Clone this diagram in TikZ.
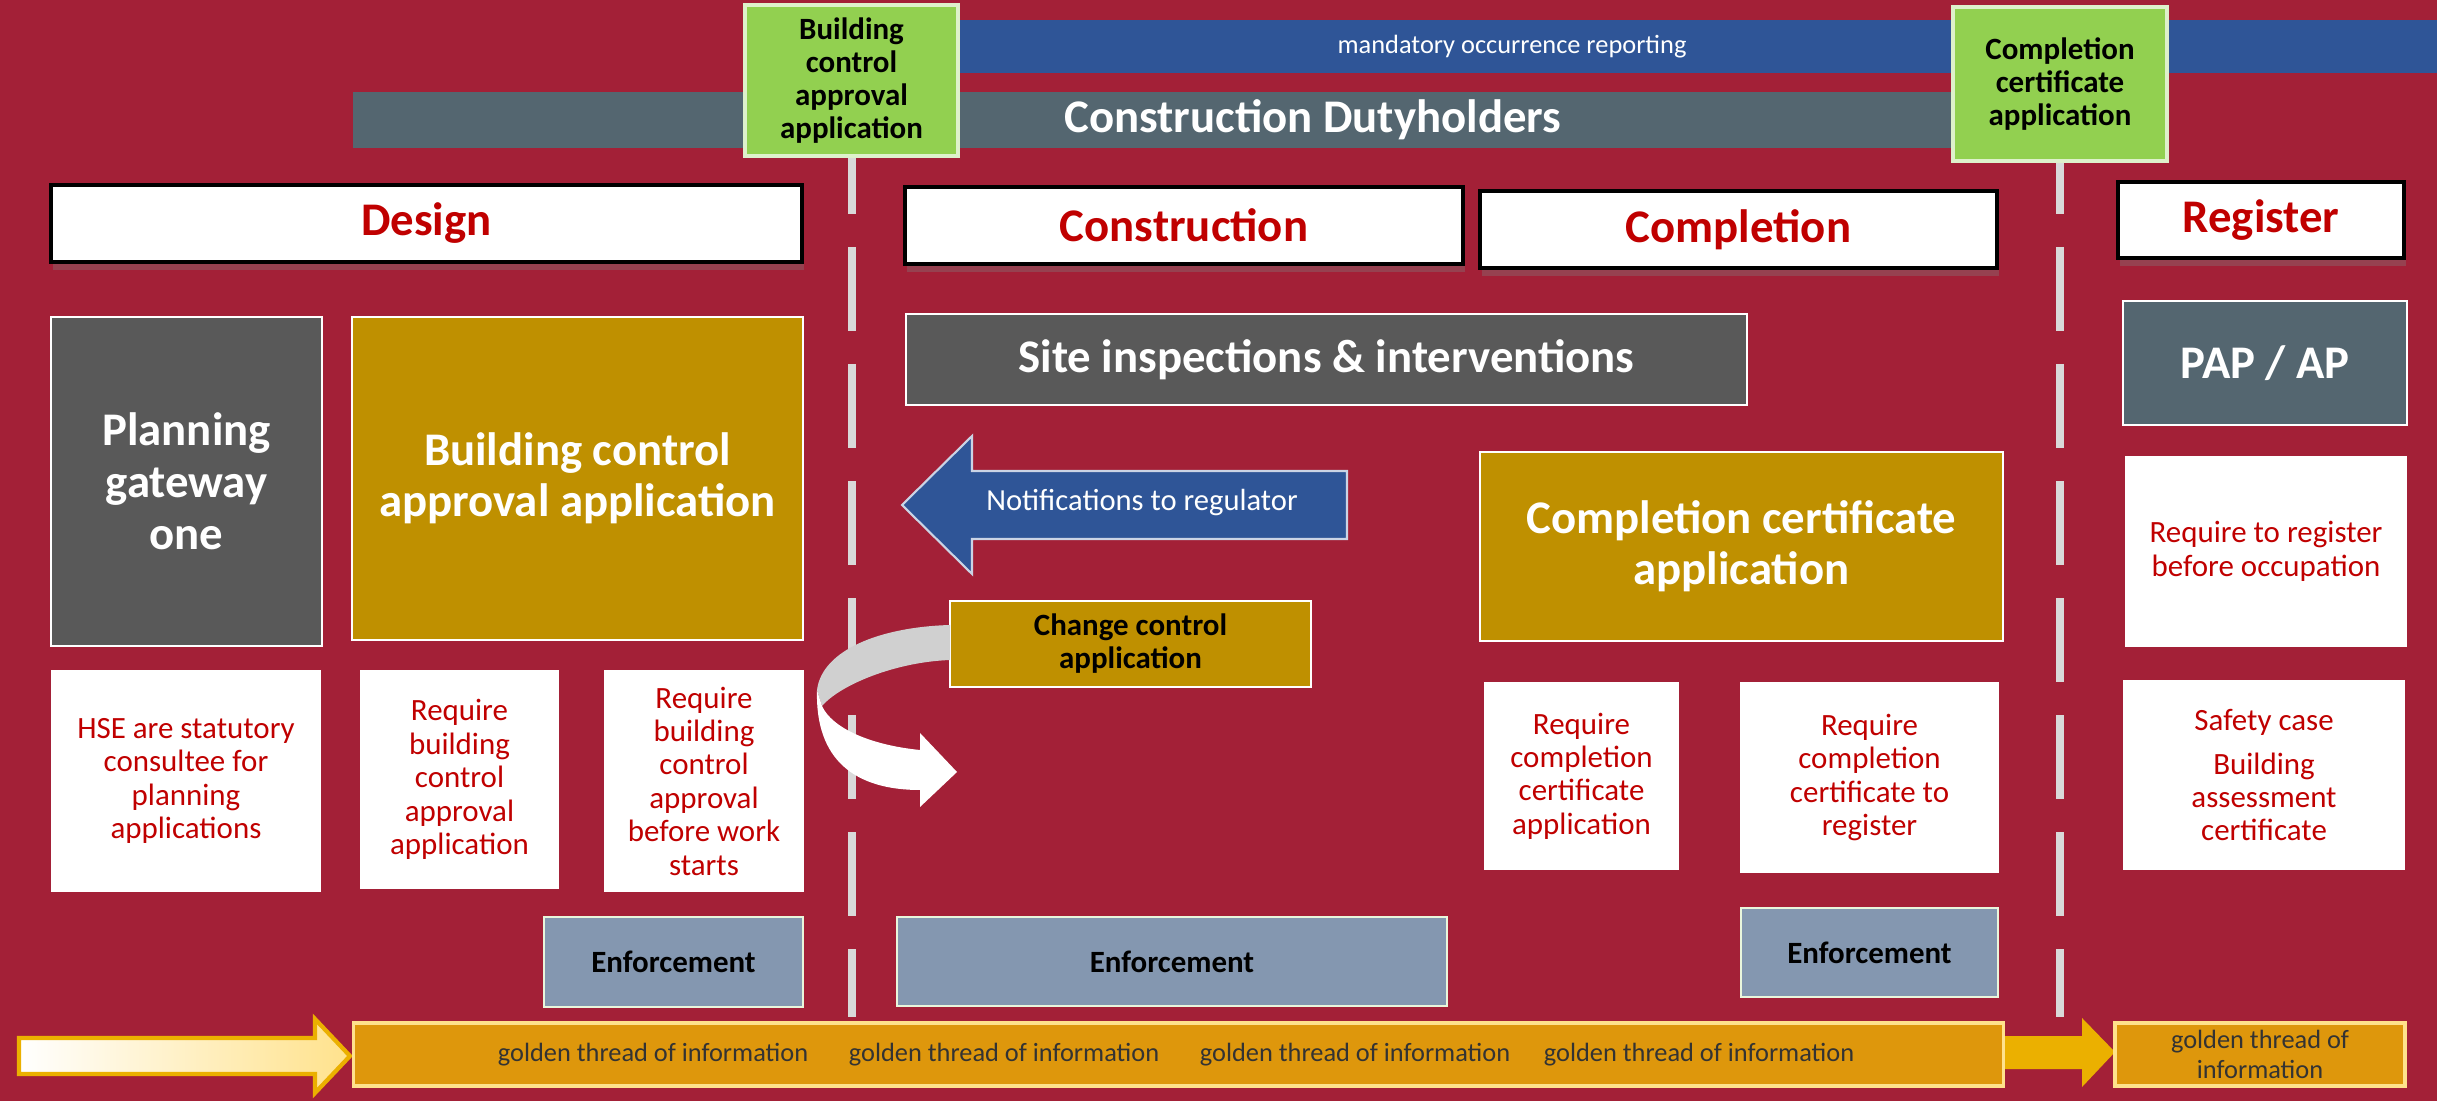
\documentclass[tikz,border=0pt]{standalone}
\usepackage{fontspec}
\setmainfont{Carlito}
\usetikzlibrary{shadows}

\definecolor{wine}{RGB}{163,32,55}
\definecolor{slate}{RGB}{84,102,112}
\definecolor{darkgrey}{RGB}{89,89,89}
\definecolor{ochre}{RGB}{191,144,0}
\definecolor{leafgreen}{RGB}{146,208,80}
\definecolor{barblue}{RGB}{47,85,151}
\definecolor{steel}{RGB}{132,151,176}
\definecolor{signred}{RGB}{192,0,0}
\definecolor{amber}{RGB}{222,151,12}
\definecolor{amberlight}{RGB}{255,226,140}
\definecolor{yellowgold}{RGB}{235,176,0}
\definecolor{dashgrey}{RGB}{217,217,217}
\definecolor{foldgrey}{RGB}{208,208,208}

\begin{document}
\begin{tikzpicture}[x = 0.01cm, y = -0.01cm,
                      phase/.style = {draw = black, line width = 1pt, fill = white, text = signred, inner sep = 0pt,
                                      font = \fontsize{13.3}{14.5}\selectfont\bfseries,
                                      drop shadow = {opacity = 0.35, shadow xshift = 0.02cm, shadow yshift = -0.08cm}},
                      block/.style = {draw = white, line width = 0.5pt, inner sep = 0pt, align = center},
                      gate/.style = {block, fill = darkgrey, text = white, font = \fontsize{13.3}{14.8}\selectfont\bfseries},
                      gold/.style = {block, fill = ochre, text = white, font = \fontsize{13.3}{14.5}\selectfont\bfseries},
                      note/.style = {fill = white, text = signred, inner sep = 0pt, align = center,
                                     font = \fontsize{8.8}{9.5}\selectfont},
                      enforce/.style = {block, draw = white!80!leafgreen, fill = steel, text = black,
                                        font = \fontsize{8.8}{9.5}\selectfont\bfseries},
                      greenbox/.style = {block, draw = white!70!leafgreen, line width = 1pt, fill = leafgreen, text = black,
                                         font = \fontsize{8.8}{9.4}\selectfont\bfseries},
                      thread/.style = {draw = amberlight, line width = 1pt, fill = amber, text = black!80, inner sep = 0pt,
                                       align = center, font = \fontsize{7.5}{8.6}\selectfont},
                      threadtext/.style = {text = black!80, font = \fontsize{7.5}{8.6}\selectfont},
                      dashline/.style = {draw = dashgrey, line width = 0.08cm, dash pattern = on 0.84cm off 0.33cm}]
    \useasboundingbox (0, 0) rectangle (2437, 1101);
    \fill [wine] (0, 0) rectangle (2437, 1101);

    \node [fill = barblue, minimum width = 14.81cm, minimum height = 0.53cm, inner sep = 0pt] (mor) at (1696.5, 46.5){};
    \node [text = white, font = \fontsize{7.5}{8.6}\selectfont] (morText) at (1512, 47){mandatory occurrence reporting};
    \node [fill = slate, minimum width = 16.07cm, minimum height = 0.56cm, inner sep = 0pt] (duty) at (1156.5, 120){};
    \node [text = white, font = \fontsize{13.3}{14.5}\selectfont\bfseries] (dutyText) at (1313, 120){Construction Dutyholders};

    \node [greenbox, minimum width = 2.13cm, minimum height = 1.51cm] (bcaGate) at (851.5, 80.5){Building\\control\\approval\\application};
    \node [greenbox, minimum width = 2.14cm, minimum height = 1.54cm] (ccaGate) at (2060, 84){Completion\\certificate\\application};
    \coordinate (bcaEnd) at (851.5, 1017);
    \coordinate (ccaEnd) at (2060, 1017);
    \draw [dashline, dash phase = 0.28cm] (bcaGate.south) -- (bcaEnd);
    \draw [dashline, dash phase = 0.33cm] (ccaGate.south) -- (ccaEnd);

    \node [phase, minimum width = 7.51cm, minimum height = 0.77cm] (design) at (426.5, 223.5){Design};
    \node [phase, minimum width = 5.58cm, minimum height = 0.77cm] (construction) at (1184, 225.5){Construction};
    \node [phase, minimum width = 5.17cm, minimum height = 0.77cm] (completion) at (1738.5, 229.5){Completion};
    \node [phase, minimum width = 2.86cm, minimum height = 0.76cm] (register) at (2261, 220){Register};

    \node [gate, minimum width = 2.71cm, minimum height = 3.29cm] (planning) at (186.5, 481.5){Planning\\gateway\\one};
    \node [gold, minimum width = 4.51cm, minimum height = 3.23cm] (bcaApp) at (577.5, 478.5){Building control\\approval application};
    \node [gate, minimum width = 8.41cm, minimum height = 0.91cm] (site) at (1326.5, 359.5){Site inspections \& interventions};
    \node [gold, minimum width = 5.23cm, minimum height = 1.89cm] (ccaApp) at (1741.5, 546.5){Completion certificate\\application};
    \node [block, fill = slate, text = white, font = \fontsize{13.3}{14.5}\selectfont\bfseries,
           minimum width = 2.84cm, minimum height = 1.24cm] (pap) at (2265, 363){PAP / AP};

    \draw [fill = barblue, draw = white!75!barblue, line width = 0.6pt]
        (1347, 471) -- (972, 471) -- (972, 436) -- (902, 505) -- (972, 574) -- (972, 539) -- (1347, 539) -- cycle;
    \node [text = white, font = \fontsize{8.7}{9.5}\selectfont] (notify) at (1142, 503){Notifications to regulator};

    \node [block, fill = ochre, text = black, font = \fontsize{8.8}{9.4}\selectfont\bfseries,
           minimum width = 3.61cm, minimum height = 0.86cm] (change) at (1130.5, 644){Change control\\application};
    \fill [foldgrey] (950, 625) .. controls (880, 627) and (822, 650) .. (817, 690)
        -- (822, 706) .. controls (840, 685) and (895, 662) .. (950, 660) -- cycle;
    \fill [white] (817, 690) .. controls (815, 760) and (855, 790) .. (920, 790)
        -- (920, 807) -- (957, 772) -- (920, 733) -- (920, 750)
        .. controls (870, 745) and (832, 728) .. (822, 706) -- cycle;

    \node [note, minimum width = 2.70cm, minimum height = 2.22cm] (hse) at (186, 781){HSE are statutory\\consultee for\\planning\\applications};
    \node [note, minimum width = 1.99cm, minimum height = 2.19cm] (reqBca) at (459.5, 779.5){Require\\building\\control\\approval\\application};
    \node [note, minimum width = 2.00cm, minimum height = 2.22cm] (reqStart) at (704, 781){Require\\building\\control\\approval\\before work\\starts};
    \node [note, minimum width = 1.95cm, minimum height = 1.88cm] (reqCca) at (1581.5, 776){Require\\completion\\certificate\\application};
    \node [note, minimum width = 2.59cm, minimum height = 1.91cm] (reqReg) at (1869.5, 777.5){Require\\completion\\certificate to\\register};
    \node [note, minimum width = 2.82cm, minimum height = 1.91cm] (occupy) at (2266, 551.5){Require to register\\before occupation};
    \node [note, minimum width = 2.82cm, minimum height = 1.90cm] (safety) at (2264, 775){Safety case\\[3pt]Building\\assessment\\certificate};

    \node [enforce, minimum width = 2.59cm, minimum height = 0.90cm] (enfDesign) at (673.5, 962){Enforcement};
    \node [enforce, minimum width = 5.50cm, minimum height = 0.89cm] (enfBuild) at (1172, 961.5){Enforcement};
    \node [enforce, minimum width = 2.57cm, minimum height = 0.89cm] (enfFinish) at (1869.5, 952.5){Enforcement};

    \draw [draw = yellowgold, line width = 1.2pt, left color = white, right color = amberlight]
        (19, 1038) -- (315, 1038) -- (315, 1019) -- (350, 1056) -- (315, 1093) -- (315, 1074) -- (19, 1074) -- cycle;
    \node [thread, minimum width = 16.49cm, minimum height = 0.63cm] (thread) at (1178.5, 1054.5){};
    \node [threadtext] (gt1) at (653, 1055){golden thread of information};
    \node [threadtext] (gt2) at (1004, 1055){golden thread of information};
    \node [threadtext] (gt3) at (1355, 1055){golden thread of information};
    \node [threadtext] (gt4) at (1699, 1055){golden thread of information};
    \fill [yellowgold] (2005, 1036) -- (2082, 1036) -- (2082, 1018) -- (2115, 1052) -- (2082, 1087) -- (2082, 1069) -- (2005, 1069) -- cycle;
    \node [thread, minimum width = 2.90cm, minimum height = 0.63cm] (threadReg) at (2260, 1054.5){golden thread of\\information};
    \end{tikzpicture}
\end{document}
